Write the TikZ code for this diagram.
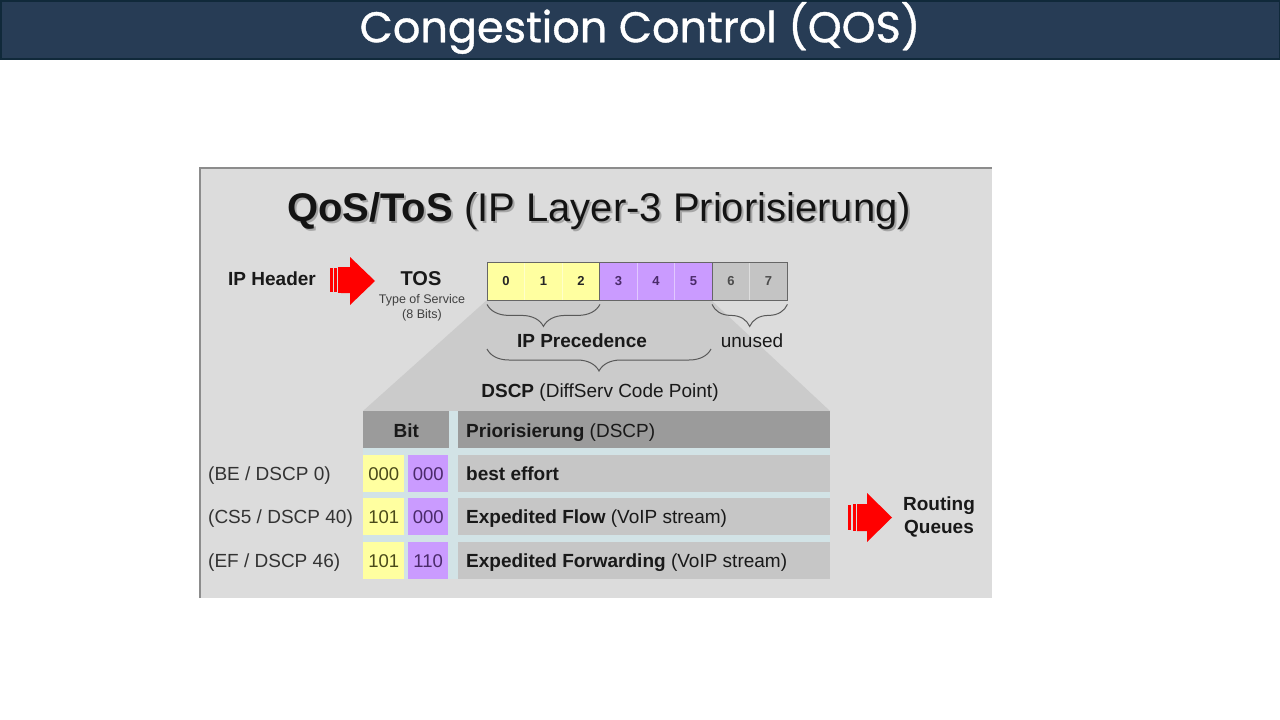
\documentclass[tikz,border=0pt]{standalone}
\usepackage{fontspec}
\setmainfont{Liberation Sans}
\newfontfamily\titlefont[FakeBold=0.9]{Poppins}
\usetikzlibrary{decorations.pathreplacing}
\definecolor{barblue}{HTML}{273C55}
\definecolor{bardark}{HTML}{10293A}
\definecolor{panelgray}{HTML}{DCDCDC}
\definecolor{trapgray}{HTML}{CBCBCB}
\definecolor{headgray}{HTML}{9B9B9B}
\definecolor{rowgray}{HTML}{C6C6C6}
\definecolor{lightblue}{HTML}{D2E3E6}
\definecolor{bityellow}{HTML}{FFFFA0}
\definecolor{bitpurple}{HTML}{CA9BFF}
\definecolor{bitgray}{HTML}{C4C4C4}
\definecolor{txtyellow}{HTML}{4A4A1A}
\definecolor{txtpurple}{HTML}{4A2A6A}
\definecolor{arrowred}{HTML}{FF0000}
\begin{document}
\begin{tikzpicture}[x=1pt,y=-1pt,
  lbl/.style={font=\fontsize{19}{22}\selectfont, text=black!90, inner sep=0pt},
  bitcell/.style={draw=none, minimum width=37.5pt, minimum height=38pt, inner sep=0pt, font=\bfseries\fontsize{13}{15}\selectfont},
  brace/.style={decorate, decoration={brace, mirror, amplitude=22pt}, draw=black!65, line width=1pt},
  cellbox/.style={inner sep=0pt, anchor=north west},
]
\useasboundingbox (0,0) rectangle (1280,720);
\fill[white] (0,0) rectangle (1280,720);
% title bar
\draw[fill=barblue, draw=bardark, line width=1.5pt] (0.75,0.75) rectangle (1279.25,59);
\node[font=\titlefont\fontsize{43}{50}\selectfont, text=white, inner sep=0pt] (title) at (640,28) {Congestion Control (QOS)};
% panel
\fill[panelgray] (200,168) rectangle (992,598);
\draw[black!45, line width=1.5pt] (200,598) -- (200,168) -- (992,168);
% trapezoid
\fill[trapgray] (487,300) -- (711,300) -- (830,411) -- (363,411) -- cycle;
% panel title
\node[font=\fontsize{40}{48}\selectfont, text=black!35, anchor=base, inner sep=0pt] at (601,223) {\textbf{QoS/ToS} (IP Layer-3 Priorisierung)};
\node[font=\fontsize{40}{48}\selectfont, text=black!92, anchor=base, inner sep=0pt] (ptitle) at (599,221) {\textbf{QoS/ToS} (IP Layer-3 Priorisierung)};
% IP Header and arrow
\node[lbl, font=\bfseries\fontsize{19}{22}\selectfont, anchor=base west] (iphdr) at (228,285) {IP Header};
\fill[arrowred] (341,267) -- (350,267) -- (350,257) -- (375,281) -- (350,305) -- (350,293) -- (341,293) -- cycle;
\fill[arrowred] (330,268) rectangle (332.5,292);
\fill[arrowred] (334,268) rectangle (336.5,292);
\fill[arrowred] (338,267) rectangle (340.5,293);
% TOS
\node[lbl, font=\bfseries\fontsize{20}{22}\selectfont, anchor=base] (tos) at (421,285) {TOS};
\node[lbl, font=\fontsize{12.5}{14}\selectfont, text=black!75, anchor=base] (tosdesc) at (422,303) {Type of Service};
\node[lbl, font=\fontsize{12.5}{14}\selectfont, text=black!75, anchor=base] (tosbits) at (422,318) {(8 Bits)};
% bit strip
\foreach \i/\c/\t in {0/bityellow/black!85,1/bityellow/black!85,2/bityellow/black!85,3/bitpurple/txtpurple,4/bitpurple/txtpurple,5/bitpurple/txtpurple,6/bitgray/black!70,7/bitgray/black!70}{
  \node[bitcell, fill=\c, text=\t, anchor=north west] (b\i) at (487+37.5*\i,262) {\i};
}
\foreach \i in {1,2,4,5,7}{
  \draw[white, opacity=0.45, line width=1pt] (b\i.north west) -- (b\i.south west);
}
\draw[black!60, line width=1pt] (b0.north west) rectangle (b7.south east);
\draw[black!60, line width=1pt] (b3.north west) -- (b3.south west);
\draw[black!60, line width=1pt] (b6.north west) -- (b6.south west);
% braces
\draw[brace] ([yshift=-4pt]b0.south west) -- ([yshift=-4pt]b2.south east);
\node[lbl, font=\bfseries\fontsize{19}{22}\selectfont, anchor=base] (ipprec) at (582,347) {IP Precedence};
\draw[brace] ([yshift=-4pt]b6.south west) -- ([yshift=-4pt]b7.south east);
\node[lbl, anchor=base] (unused) at (752,347) {unused};
\draw[brace] (487,349) -- (711,349);
\node[lbl, anchor=base] (dscp) at (600,397) {\textbf{DSCP} (DiffServ Code Point)};
% table
\fill[lightblue] (363,411) rectangle (830,579);
\node[cellbox, fill=headgray, minimum width=86pt, minimum height=37pt] (hbit) at (363,411) {};
\node[lbl, font=\bfseries\fontsize{19}{22}\selectfont, anchor=base] at ([yshift=11pt]hbit.south) {Bit};
\node[cellbox, fill=headgray, minimum width=372pt, minimum height=37pt] (hprio) at (458,411) {};
\node[lbl, anchor=base west] at (466,437) {\textbf{Priorisierung} (DSCP)};
\foreach \r/\y/\ya/\yb/\lab/\txt in {
  1/455/000/000/{(BE / DSCP 0)}/{\textbf{best effort}},
  2/498/101/000/{(CS5 / DSCP 40)}/{\textbf{Expedited Flow} (VoIP stream)},
  3/542/101/110/{(EF / DSCP 46)}/{\textbf{Expedited Forwarding} (VoIP stream)}}{
  \node[cellbox, fill=bityellow, minimum width=41pt, minimum height=37pt] (ya\r) at (363,\y) {};
  \node[cellbox, fill=bitpurple, minimum width=40pt, minimum height=37pt] (pu\r) at (408,\y) {};
  \node[cellbox, fill=rowgray, minimum width=372pt, minimum height=37pt] (tx\r) at (458,\y) {};
  \node[lbl, font=\fontsize{18.5}{22}\selectfont, text=txtyellow, anchor=base] at ([yshift=12pt]ya\r.south) {\ya};
  \node[lbl, font=\fontsize{18.5}{22}\selectfont, text=txtpurple, anchor=base] at ([yshift=12pt]pu\r.south) {\yb};
  \node[lbl, anchor=base west] at ([xshift=8pt,yshift=12pt]tx\r.south west) {\txt};
  \node[lbl, text=black!80, anchor=base west] (lab\r) at ([xshift=-155pt,yshift=12pt]ya\r.south west) {\lab};
}
% right arrow
\fill[arrowred] (857,504) -- (867,504) -- (867,493) -- (892,517.5) -- (867,542) -- (867,531) -- (857,531) -- cycle;
\fill[arrowred] (848,505) rectangle (851,530);
\fill[arrowred] (852.5,504) rectangle (856,531);
\node[lbl, font=\bfseries\fontsize{19}{22}\selectfont, anchor=base] (routing) at (939,510) {Routing};
\node[lbl, font=\bfseries\fontsize{19}{22}\selectfont, anchor=base] (queues) at (939,533) {Queues};
\end{tikzpicture}
\end{document}
